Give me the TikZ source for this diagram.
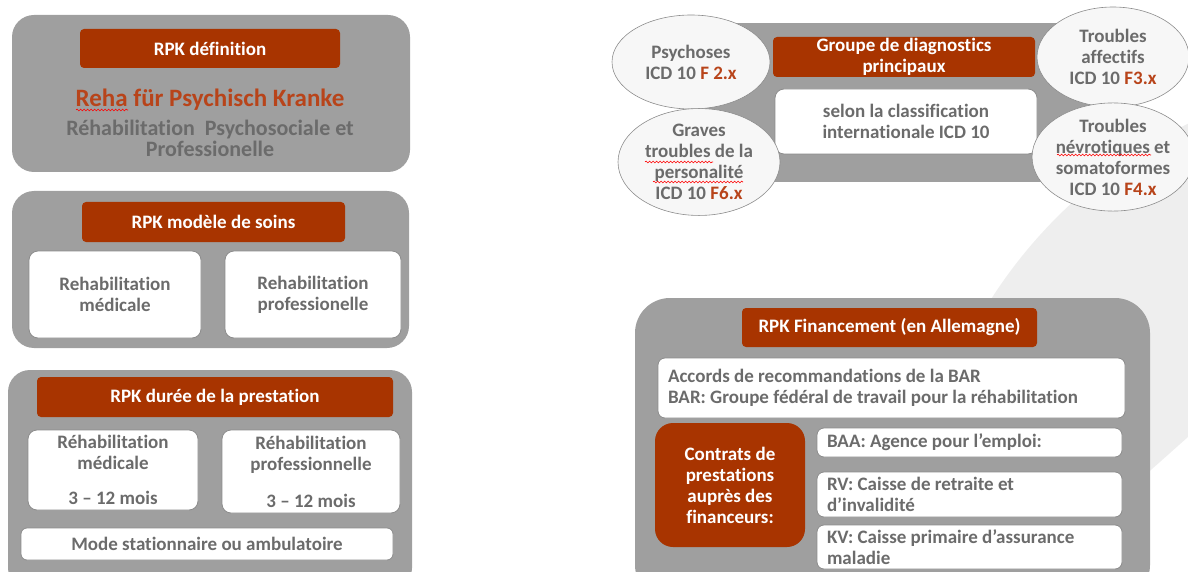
\documentclass[tikz,border=0pt]{standalone}
\usepackage{fontspec}
\setmainfont{Carlito}[Ligatures=NoCommon]
\usetikzlibrary{shapes.geometric,decorations.pathmorphing}
\definecolor{rpkgray}{HTML}{9F9F9F}
\definecolor{rpkrust}{HTML}{A83400}
\definecolor{rpkred}{HTML}{B8441A}
\definecolor{rpktext}{HTML}{6B6B6B}
\definecolor{rpkline}{HTML}{8C8C8C}
\definecolor{rpkbg}{HTML}{EEEEEE}
\newcommand{\txt}{\fontsize{19}{21}\selectfont\bfseries}
\frenchspacing
\tikzset{
  grpbox/.style={fill=rpkgray, rounded corners=22pt, inner sep=0pt},
  hdrbox/.style={fill=rpkrust, rounded corners=4pt, text=white, font=\txt, align=center, inner sep=0pt},
  whitebox/.style={fill=white, draw=rpkline, line width=0.8pt, rounded corners=9pt, text=rpktext, font=\txt, align=center, inner sep=0pt},
  listbox/.style={whitebox, rounded corners=7pt, align=flush left, text width=#1, inner xsep=10pt},
  diag/.style={ellipse, fill=white!97!black, draw=rpkline, line width=0.6pt, text=rpktext, font=\txt, align=center, inner sep=0pt},
  spell/.style={draw=red, line width=0.6pt, decorate, decoration={snake, segment length=3.5pt, amplitude=0.9pt}}
}
\begin{document}
\begin{tikzpicture}[x=1pt, y=-1pt]
  \useasboundingbox (0,0) rectangle (1188,572);
  \clip (0,0) rectangle (1188,572);
  % background shape
  \begin{scope}
    \clip (700,0) -- (1188,0) -- (1188,437) -- (600,960) -- cycle;
    \fill[rpkbg] (1400,560) circle (485pt);
  \end{scope}

  % left column
  \node[grpbox, minimum width=398pt, minimum height=157pt] (def) at (211,93.5) {};
  \node[hdrbox, minimum width=260pt, minimum height=39pt] (defhdr) at (210,48.5) {RPK définition};
  \node[text=rpkred, font=\fontsize{25}{28}\selectfont\bfseries] (reha) at (210,100) {Reha für Psychisch Kranke};
  \node[text=rpktext, font=\fontsize{22}{21}\selectfont\bfseries, align=center] (rehafr) at (210,138.5)
    {Réhabilitation \ Psychosociale et\\Professionelle};

  \node[grpbox, minimum width=397pt, minimum height=157pt] (soins) at (210.5,269.5) {};
  \node[hdrbox, minimum width=263pt, minimum height=40pt] (soinshdr) at (213.5,222) {RPK modèle de soins};
  \node[whitebox, minimum width=172pt, minimum height=87pt] (soinsmed) at (115,294.5) {Rehabilitation\\médicale};
  \node[whitebox, minimum width=176pt, minimum height=87pt] (soinspro) at (313,294.5) {Rehabilitation\\professionelle};

  \node[grpbox, minimum width=404pt, minimum height=220pt] (duree) at (210,480) {};
  \node[hdrbox, minimum width=356pt, minimum height=40pt] (dureehdr) at (215,397) {RPK durée de la prestation};
  \node[whitebox, minimum width=170pt, minimum height=80pt] (dureemed) at (113,470)
    {Réhabilitation\\médicale\\[14pt]3 -- 12 mois};
  \node[whitebox, minimum width=178pt, minimum height=83pt] (dureepro) at (311,471.5)
    {Réhabilitation\\professionnelle\\[16pt]3 -- 12 mois};
  \node[whitebox, rounded corners=6pt, minimum width=372pt, minimum height=32pt] (mode) at (207,544)
    {Mode stationnaire ou ambulatoire};

  % diagnostics
  \fill[rpkgray] (705,23) rectangle (1105,182);
  \node[hdrbox, minimum width=262pt, minimum height=40pt] (diaghdr) at (904,57) {Groupe de diagnostics\\principaux};
  \node[whitebox, minimum width=262pt, minimum height=65pt] (icd) at (906,121.5)
    {selon la classification\\internationale ICD 10};
  \node[diag, minimum width=158pt, minimum height=94pt] (psy) at (691,62)
    {Psychoses\\ICD 10 \textcolor{rpkred}{F 2.x}};
  \node[diag, minimum width=162pt, minimum height=96pt] (pers) at (699,162)
    {Graves\\troubles de la\\personalité\\ICD 10 \textcolor{rpkred}{F6.x}};
  \node[diag, minimum width=152pt, minimum height=100pt] (aff) at (1113,57)
    {Troubles\\affectifs\\ICD 10 \textcolor{rpkred}{F3.x}};
  \node[diag, minimum width=152pt, minimum height=96pt] (nev) at (1113,157)
    {Troubles\\névrotiques et\\somatoformes\\ICD 10 \textcolor{rpkred}{F4.x}};

  % financement
  \node[grpbox, rounded corners=35pt, minimum width=515pt, minimum height=302pt] (fin) at (892.5,449) {};
  \node[hdrbox, minimum width=295pt, minimum height=39pt] (finhdr) at (889.5,327.5) {RPK Financement (en Allemagne)};
  \node[listbox=447pt, minimum height=60pt] (bar) at (891.5,388)
    {Accords de recommandations de la BAR\\BAR: Groupe fédéral de travail pour la réhabilitation};
  \node[hdrbox, rounded corners=18pt, minimum width=150pt, minimum height=124pt] (contrats) at (730,485)
    {Contrats de\\prestations\\auprès des\\financeurs:};
  \node[listbox=285pt, minimum height=29pt] (baa) at (969.5,442.5) {BAA: Agence pour l’emploi:};
  \node[listbox=285pt, minimum height=45pt] (rv) at (969.5,494.5) {RV: Caisse de retraite et\\d’invalidité};
  \node[listbox=285pt, minimum height=44pt] (kv) at (969.5,547) {KV: Caisse primaire d’assurance\\maladie};

  % spell-check marks
  \draw[spell] (76,110) -- (128,110);
  \draw[spell] (645,162) -- (713,162);
  \draw[spell] (653,182) -- (743,182);
  \draw[spell] (1057,155) -- (1151,155);
\end{tikzpicture}
\end{document}
